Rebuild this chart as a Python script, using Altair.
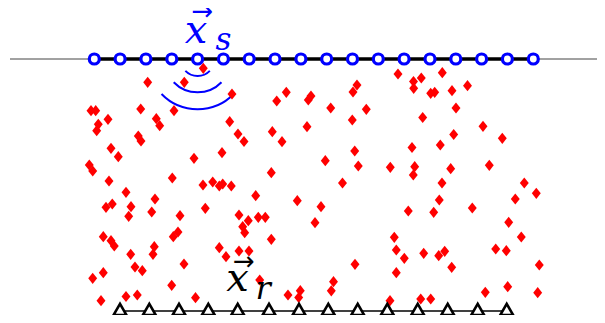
import altair as alt
import pandas as pd

# ---- data (picture coordinates) ----
source_x = [94.3, 120.1, 145.9, 171.8, 197.6, 223.4, 249.2, 275.0, 300.9,
            326.7, 352.5, 378.3, 404.1, 430.0, 455.8, 481.6, 507.4, 533.3]
source_y = 59.0

receiver_x = [120.0, 149.3, 179.0, 208.3, 237.7, 269.0, 299.0, 328.3, 357.7,
              387.3, 417.7, 447.7, 477.7, 506.7]
receiver_y = 309.5
receiver_line_y = 311.0

surface_x = [10.0, 600.0]

scat_x = [203.3, 147.7, 184.3, 232.0, 91.0, 95.7, 140.7, 174.0, 108.0, 98.3,
          96.7, 156.3, 159.7, 229.7, 238.0, 244.0, 138.3, 141.0, 111.0, 118.3,
          194.0, 222.0, 89.3, 92.7, 109.0, 172.3, 203.0, 212.7, 219.3, 222.7,
          231.3,
          398.0, 286.3, 276.7, 308.3, 311.0, 353.0, 357.0, 330.7, 366.3, 352.3,
          307.0, 272.3, 282.0, 354.7, 325.3, 358.3, 390.3, 271.3, 342.5,
          442.3, 421.3, 413.5, 413.7, 467.5, 430.7, 434.7, 452.0, 456.0, 422.7,
          483.0, 453.7, 502.3, 412.0, 440.3, 414.7, 413.3, 450.7, 489.3, 442.0,
          524.3,
          126.0, 155.0, 106.0, 112.3, 131.0, 128.7, 151.7, 180.0, 205.3, 239.0,
          103.3, 111.0, 114.3, 130.7, 154.3, 153.0, 173.3, 178.0, 219.3, 226.0,
          239.0, 249.0, 103.3, 92.7, 135.0, 142.3, 184.0, 171.7, 101.0, 126.0,
          137.3, 195.5,
          255.7, 297.3, 321.0, 248.3, 258.3, 265.3, 315.0, 242.7, 244.7, 271.3,
          394.3, 396.3, 355.0, 396.3, 259.7, 333.5, 300.3, 298.7, 288.0, 331.3,
          390.0,
          536.3, 515.3, 439.3, 408.3, 433.7, 472.3, 508.7, 521.3, 404.3, 423.7,
          438.7, 444.7, 451.7, 495.7, 506.3, 539.3, 485.3, 507.7, 537.7, 420.7,
          430.7]
scat_y = [68.3, 82.3, 82.3, 94.0, 110.7, 110.7, 109.0, 110.7, 119.3, 124.3,
          130.7, 118.7, 125.7, 121.7, 134.0, 141.5, 136.0, 141.0, 148.3, 156.7,
          158.3, 152.7, 165.0, 171.0, 181.0, 178.0, 185.0, 182.0, 186.0, 184.0,
          186.0,
          74.0, 92.3, 101.0, 100.0, 96.0, 92.0, 85.0, 108.0, 109.3, 120.0,
          126.7, 131.7, 141.7, 151.0, 160.7, 166.0, 167.3, 172.7, 183.0,
          72.7, 78.0, 81.5, 88.3, 85.7, 93.3, 92.3, 90.7, 108.0, 117.5,
          126.3, 134.5, 138.3, 147.5, 145.0, 166.7, 175.0, 168.7, 165.3, 183.0,
          183.0,
          192.3, 199.0, 207.3, 204.0, 206.7, 216.3, 212.0, 215.7, 208.3, 215.0,
          236.7, 240.7, 246.0, 254.3, 246.7, 254.3, 236.7, 232.0, 247.7, 256.7,
          251.0, 251.0, 272.7, 278.3, 267.0, 270.7, 264.0, 285.3, 300.7, 296.5,
          295.0, 297.7,
          195.7, 200.7, 206.7, 220.7, 217.3, 217.3, 222.7, 226.7, 232.7, 239.3,
          237.3, 250.0, 264.3, 272.7, 280.0, 281.7, 290.7, 297.5, 295.0, 290.8,
          300.7,
          193.3, 199.0, 200.0, 211.0, 212.3, 208.0, 222.3, 237.0, 258.3, 253.3,
          255.7, 251.3, 267.3, 249.0, 250.7, 265.0, 292.3, 286.7, 292.7, 299.0,
          299.0]

wave_r = [17.0, 33.3, 50.3]
wave_src = 4
wave_half_angle = 0.8

# ---- scales: data units are picture units (page margin 8px) ----
W, H = 589, 307
xs = alt.Scale(domain=[8, 8 + W], nice=False, zero=False)
ys = alt.Scale(domain=[8 + H, 8], nice=False, zero=False)

def X(field=None, datum=None):
    if datum is not None:
        return alt.X(datum=datum, type="quantitative", scale=xs, axis=None)
    return alt.X(field, type="quantitative", scale=xs, axis=None)

def Y(field=None, datum=None):
    if datum is not None:
        return alt.Y(datum=datum, type="quantitative", scale=ys, axis=None)
    return alt.Y(field, type="quantitative", scale=ys, axis=None)

one = pd.DataFrame({"a": [0]})

surface = alt.Chart(one).mark_rule(color="#444444", strokeWidth=1).encode(
    x=X(datum=surface_x[0]), x2=alt.X2(datum=surface_x[1]), y=Y(datum=source_y))

src_line = alt.Chart(one).mark_rule(color="black", strokeWidth=3.5).encode(
    x=X(datum=source_x[0]), x2=alt.X2(datum=source_x[-1]), y=Y(datum=source_y))

rec_line = alt.Chart(one).mark_rule(color="black", strokeWidth=1.6).encode(
    x=X(datum=receiver_x[0]), x2=alt.X2(datum=receiver_x[-1]), y=Y(datum=receiver_line_y))

wave_df = pd.DataFrame({"r": wave_r, "cx": source_x[wave_src], "cy": source_y})
arcs = alt.Chart(wave_df).transform_calculate(
    t1=f"PI - {wave_half_angle}", t2=f"PI + {wave_half_angle}"
).mark_arc(filled=False, stroke="#0000ff", strokeWidth=2).encode(
    x=X("cx"), y=Y("cy"),
    theta=alt.Theta("t1:Q", scale=None), theta2=alt.Theta2("t2:Q"),
    radius=alt.Radius("r:Q", scale=None), radius2=alt.Radius2("r:Q"),
)

scat_df = pd.DataFrame({"x": scat_x, "y": scat_y})
scatter = alt.Chart(scat_df).mark_point(
    shape="M0,-1L0.8,0L0,1L-0.8,0Z", filled=True, color="#ff0000",
    opacity=1, size=125, strokeWidth=0
).encode(x=X("x"), y=Y("y"))

src_df = pd.DataFrame({"x": source_x, "y": source_y})
sources = alt.Chart(src_df).mark_point(
    shape="circle", fill="white", stroke="#0000ff", strokeWidth=3.2,
    size=100, opacity=1, fillOpacity=1
).encode(x=X("x"), y=Y("y"))

rec_df = pd.DataFrame({"x": receiver_x, "y": receiver_y})
receivers = alt.Chart(rec_df).mark_point(
    shape="triangle-up", fill="white", stroke="black", strokeWidth=2.6,
    size=170, opacity=1, fillOpacity=1
).encode(x=X("x"), y=Y("y"))

def label(txt, x, y, size, color, font="DejaVu Serif", style="italic",
          align="center", baseline="alphabetic"):
    return alt.Chart(one).mark_text(
        text=txt, font=font, fontStyle=style, fontSize=size, color=color,
        align=align, baseline=baseline
    ).encode(x=X(datum=x), y=Y(datum=y))

labels = [
    label("x", 196.0, 42.5, 40, "#0000ff"),
    label("s", 215.5, 49.5, 31, "#0000ff", align="left"),
    label("\u2192", 202.5, 11.5, 26, "#0000ff", font="DejaVu Sans", style="normal",
          baseline="middle"),
    label("x", 237.5, 290.5, 40, "black"),
    label("r", 255.5, 299.0, 32, "black", align="left"),
    label("\u2192", 244.0, 262.0, 26, "black", font="DejaVu Sans", style="normal",
          baseline="middle"),
]

chart = alt.layer(
    surface, src_line, rec_line, arcs, scatter, sources, receivers, *labels
).properties(
    width=W, height=H, padding=0, autosize=alt.AutoSizeParams(type="none"),
    background="white"
).configure_view(stroke=None)

chart.save("out.html", embed_options={"renderer": "svg", "actions": False})
